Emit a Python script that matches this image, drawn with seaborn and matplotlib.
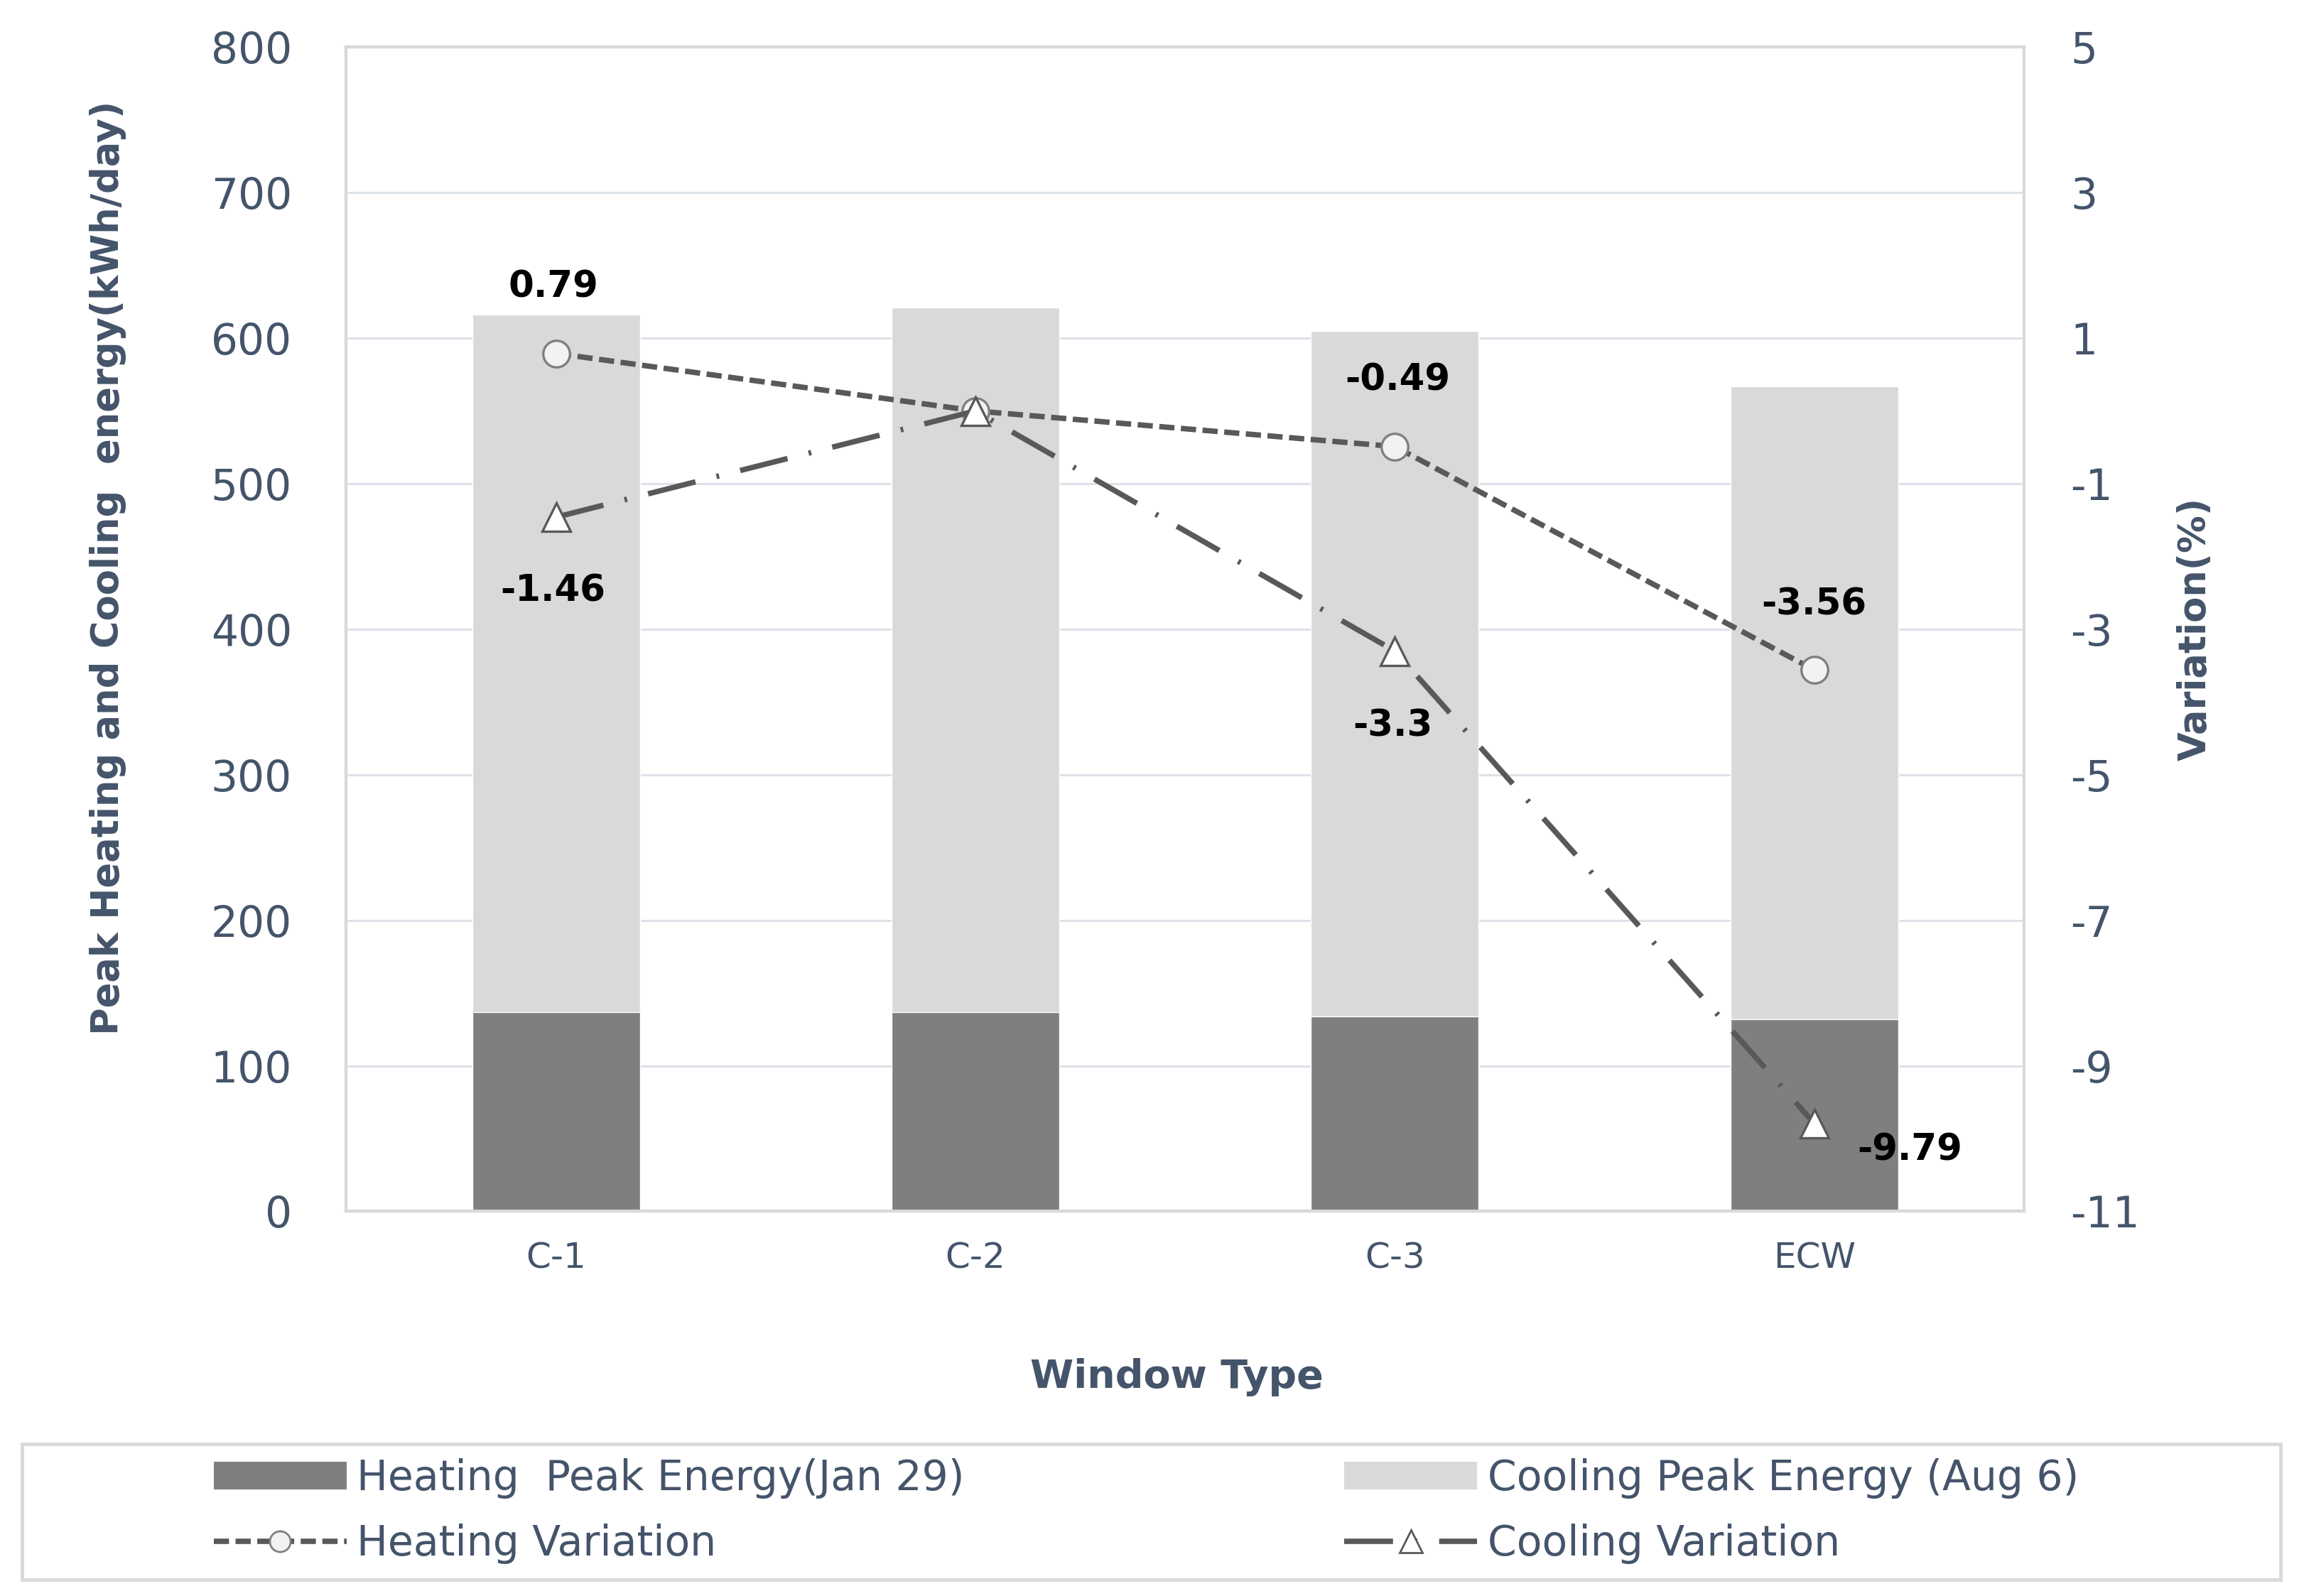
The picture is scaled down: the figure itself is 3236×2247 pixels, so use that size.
import numpy as np
import matplotlib
matplotlib.use("Agg")
import matplotlib.pyplot as plt
import seaborn as sns
from matplotlib.patches import Patch, Rectangle
from matplotlib.lines import Line2D

# ---------------- data ----------------
categories = ["C-1", "C-2", "C-3", "ECW"]
heating_peak = [137, 137, 134, 132]          # kWh/day (Jan 29)
cooling_peak = [479, 484, 471, 435]          # kWh/day (Aug 6), stacked on heating
heating_variation = [0.79, 0.0, -0.49, -3.56]  # %
cooling_variation = [-1.46, 0.0, -3.3, -9.79]  # %
left_ticks = [0, 100, 200, 300, 400, 500, 600, 700, 800]
right_ticks = [-11, -9, -7, -5, -3, -1, 1, 3, 5]

# ---------------- style ----------------
sns.set_theme(style="white")
plt.rcParams["font.family"] = ["DejaVu Sans"]
plt.rcParams["axes.unicode_minus"] = False

TXT = "#44546a"
HEAT_C = "#7f7f7f"
COOL_C = "#d9d9d9"
LINE_C = "#595959"
FRAME_C = "#d9d9d9"
GRID_C = "#dde2e9"

heat_ls = (0, (2.8, 1.2))
cool_ls = (0, (9, 4, 0.5, 4))
LW = 5.5

fig = plt.figure(figsize=(32.37, 22.47), dpi=100)
ax = fig.add_axes([0.1506, 0.2410, 0.7295, 0.7295])

stack_top = [h + c for h, c in zip(heating_peak, cooling_peak)]
sns.barplot(x=categories, y=stack_top, color=COOL_C, saturation=1, width=0.4,
            errorbar=None, ax=ax, zorder=2)
sns.barplot(x=categories, y=heating_peak, color=HEAT_C, saturation=1, width=0.4,
            errorbar=None, ax=ax, zorder=3)

ax.set_ylim(left_ticks[0], left_ticks[-1])
ax.set_yticks(left_ticks)
ax.set_xlim(-0.5, len(categories) - 0.5)
ax.yaxis.grid(True, color=GRID_C, linewidth=2.2, zorder=0)
ax.xaxis.grid(False)
ax.set_axisbelow(True)
ax.tick_params(axis="y", labelsize=43, labelcolor=TXT, length=0, pad=55)
ax.tick_params(axis="x", labelsize=36, labelcolor=TXT, length=0, pad=30)
for s in ax.spines.values():
    s.set_visible(True)
    s.set_color(FRAME_C)
    s.set_linewidth(3)

ax.set_ylabel("Peak Heating and Cooling  energy(kWh/day)", fontsize=38,
              fontweight="bold", color=TXT)
ax.yaxis.set_label_coords(-0.131, 0.553)
ax.set_xlabel("Window Type", fontsize=40, fontweight="bold", color=TXT)
ax.xaxis.set_label_coords(0.495, -0.126)

# ---------------- secondary axis ----------------
ax2 = ax.twinx()
sns.pointplot(x=categories, y=heating_variation, ax=ax2, color=LINE_C,
              errorbar=None, linestyle=heat_ls, marker="o", linewidth=LW,
              markersize=27, markerfacecolor="#f2f2f2", markeredgecolor="#7f7f7f",
              markeredgewidth=2.4)
sns.pointplot(x=categories, y=cooling_variation, ax=ax2, color=LINE_C,
              errorbar=None, linestyle=cool_ls, marker="^", linewidth=LW,
              markersize=29, markerfacecolor="white", markeredgecolor=LINE_C,
              markeredgewidth=2.4)
ax2.set_ylim(right_ticks[0], right_ticks[-1])
ax2.set_yticks(right_ticks)
ax2.set_xlim(-0.5, len(categories) - 0.5)
ax2.grid(False)
ax2.tick_params(axis="y", labelsize=43, labelcolor=TXT, length=0, pad=47)
for s in ax2.spines.values():
    s.set_visible(True)
    s.set_color(FRAME_C)
    s.set_linewidth(3)
ax2.set_ylabel("Variation(%)", fontsize=38, fontweight="bold", color=TXT)
ax2.yaxis.set_label_coords(1.091, 0.5)

# data labels (offsets in points)
heat_offsets = [(-3, 67), None, (3, 67), (0, 66)]
cool_offsets = [(-3, -75), None, (-2, -76), (97, -27)]
for series, offs in ((heating_variation, heat_offsets), (cooling_variation, cool_offsets)):
    for i, (v, off) in enumerate(zip(series, offs)):
        if off is None:
            continue
        ax2.annotate(f"{v:g}", xy=(i, v), xytext=off, textcoords="offset points",
                     ha="center", va="center", fontsize=37, fontweight="bold",
                     color="black")

# ---------------- legend ----------------
fig.patches.append(Rectangle((0.0096, 0.0102), 0.9821, 0.0849, transform=fig.transFigure,
                             facecolor="white", edgecolor=FRAME_C, linewidth=3.5,
                             zorder=0))

h_heat = Patch(facecolor=HEAT_C, edgecolor="none")
h_cool = Patch(facecolor=COOL_C, edgecolor="none")
l_heat = Line2D([], [], color=LINE_C, linestyle=heat_ls, linewidth=LW, marker="o",
                markersize=21, markerfacecolor="#f2f2f2", markeredgecolor="#7f7f7f",
                markeredgewidth=2)
l_cool = Line2D([], [], color=LINE_C, linestyle=cool_ls, linewidth=LW, marker="^",
                markersize=23, markerfacecolor="white", markeredgecolor=LINE_C,
                markeredgewidth=2)

leg_kw = dict(frameon=False, fontsize=42, labelcolor=TXT, handlelength=3.2,
              handleheight=0.65, handletextpad=0.25, labelspacing=0.6,
              borderpad=0, borderaxespad=0, loc="center left")
fig.legend([h_heat, l_heat], ["Heating  Peak Energy(Jan 29)", "Heating Variation"],
           bbox_to_anchor=(0.093, 0.0532), **leg_kw)
fig.legend([h_cool, l_cool], ["Cooling Peak Energy (Aug 6)", "Cooling Variation"],
           bbox_to_anchor=(0.5846, 0.0532), **leg_kw)

fig.savefig("out.png", dpi=100, facecolor="white")
